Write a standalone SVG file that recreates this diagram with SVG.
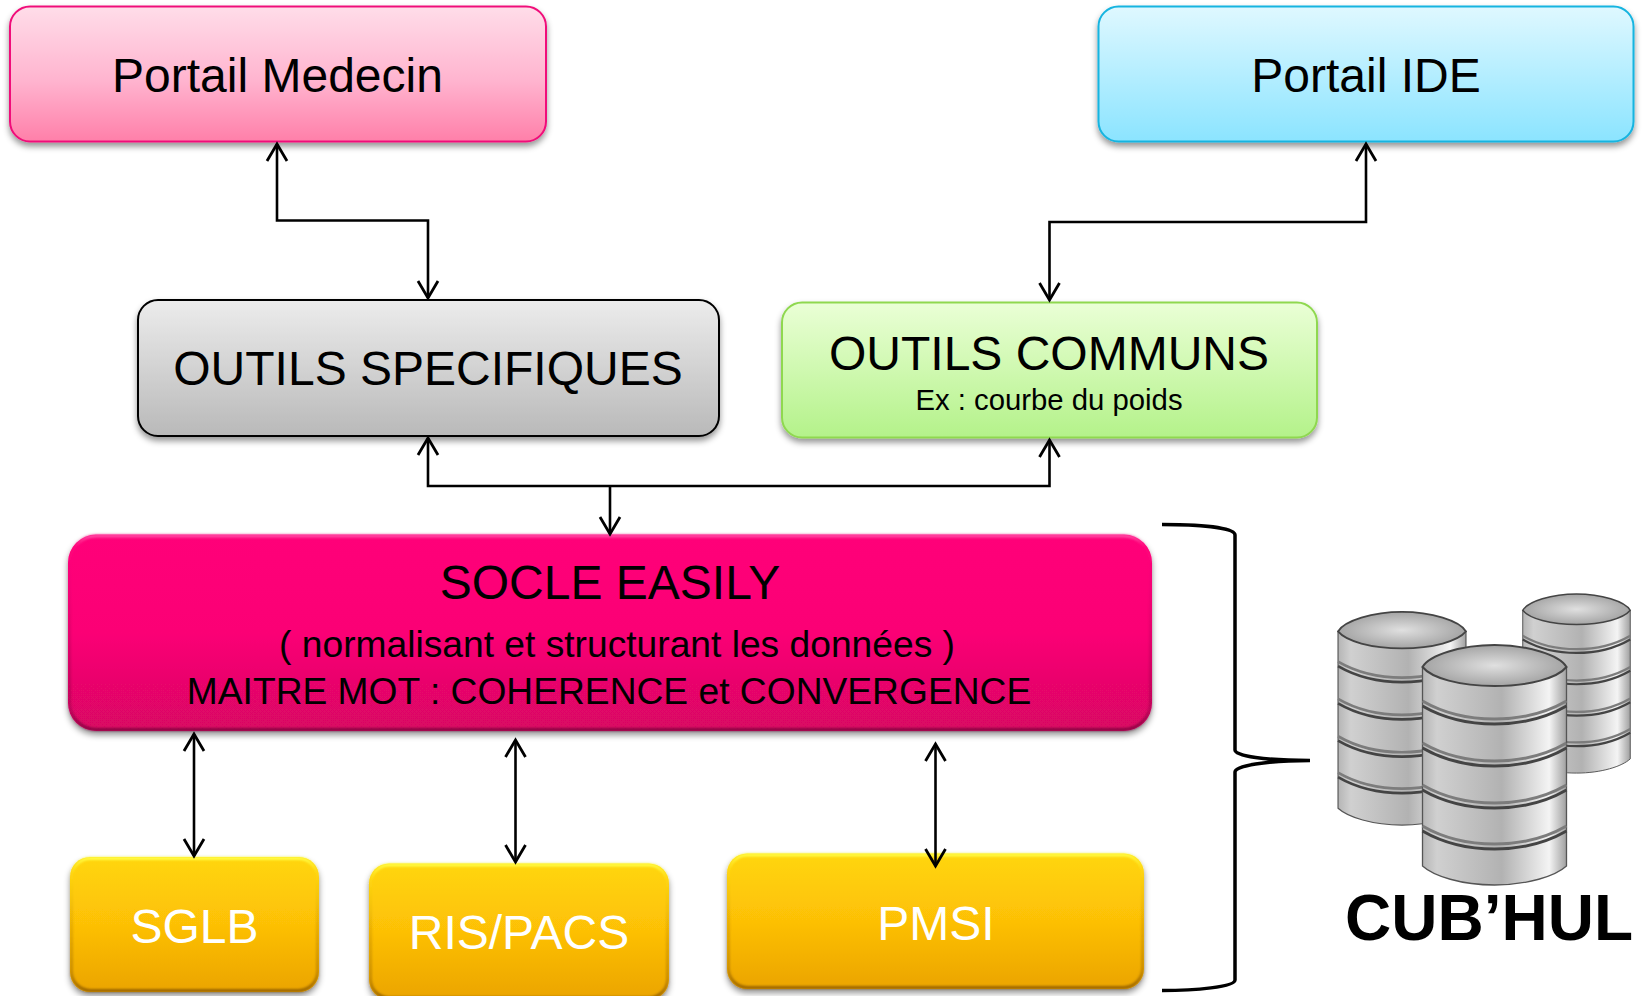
<svg xmlns="http://www.w3.org/2000/svg" xmlns:xlink="http://www.w3.org/1999/xlink" width="1645" height="996" viewBox="0 0 1645 996">
<style>
text{font-family:"Liberation Sans",Arial,sans-serif;text-anchor:middle;fill:#000}
.big{font-size:48px}
.mid{font-size:37.200px}
.w{fill:#fff}
.conn{fill:none;stroke:#000;stroke-width:2.600;marker-start:url(#arr);marker-end:url(#arr)}
.conn1{fill:none;stroke:#000;stroke-width:2.600}
.box{filter:url(#sh)}
.bev{fill:none;stroke-width:3;filter:url(#bl)}
.g1{fill:none;stroke:#7c7c7c;stroke-width:3}
.g2{fill:none;stroke:#444;stroke-width:3}
</style>
<defs>
<filter id="sh" x="-5%" y="-10%" width="110%" height="125%"><feDropShadow dx="0" dy="4" stdDeviation="3" flood-color="#000" flood-opacity=".42"/></filter>
<filter id="bl" x="-2%" y="-5%" width="104%" height="110%"><feGaussianBlur stdDeviation="1.200"/></filter>
<marker id="arr" markerUnits="userSpaceOnUse" markerWidth="24" markerHeight="26" refX="20" refY="13" orient="auto-start-reverse"><path d="M3,3 L20,13 L3,23" fill="none" stroke="#000" stroke-width="2.800"/></marker>
<linearGradient id="gp" x1="0" y1="0" x2="0" y2="1"><stop offset="0" stop-color="#ffdde9"/><stop offset=".55" stop-color="#ffb4cf"/><stop offset="1" stop-color="#ff7fa9"/></linearGradient>
<linearGradient id="gb" x1="0" y1="0" x2="0" y2="1"><stop offset="0" stop-color="#dff8ff"/><stop offset="1" stop-color="#8be4ff"/></linearGradient>
<linearGradient id="gg" x1="0" y1="0" x2="0" y2="1"><stop offset="0" stop-color="#ececec"/><stop offset="1" stop-color="#b9b9b9"/></linearGradient>
<linearGradient id="gv" x1="0" y1="0" x2="0" y2="1"><stop offset="0" stop-color="#eaffd6"/><stop offset="1" stop-color="#b4f28a"/></linearGradient>
<linearGradient id="gs" x1="0" y1="0" x2="0" y2="1"><stop offset="0" stop-color="#ff0579"/><stop offset=".5" stop-color="#fb0575"/><stop offset="1" stop-color="#d80763"/></linearGradient>
<linearGradient id="es" x1="0" y1="0" x2="0" y2="1"><stop offset="0" stop-color="#ff50a8"/><stop offset=".06" stop-color="#ff3090" stop-opacity=".1"/><stop offset=".5" stop-color="#800040" stop-opacity=".2"/><stop offset=".9" stop-color="#700038" stop-opacity=".35"/><stop offset="1" stop-color="#700038" stop-opacity=".75"/></linearGradient>
<linearGradient id="gy" x1="0" y1="0" x2="0" y2="1"><stop offset="0" stop-color="#ffd60a"/><stop offset=".5" stop-color="#fdc006"/><stop offset="1" stop-color="#eba406"/></linearGradient>
<linearGradient id="ey" x1="0" y1="0" x2="0" y2="1"><stop offset="0" stop-color="#ffff48"/><stop offset=".12" stop-color="#ffe820" stop-opacity=".2"/><stop offset=".5" stop-color="#906000" stop-opacity=".2"/><stop offset=".85" stop-color="#805000" stop-opacity=".35"/><stop offset="1" stop-color="#805000" stop-opacity=".75"/></linearGradient>
<linearGradient id="cb" x1="0" y1="0" x2="1" y2="0"><stop offset="0" stop-color="#b5b5b5"/><stop offset=".1" stop-color="#d0d0d0"/><stop offset=".55" stop-color="#b2b2b2"/><stop offset=".88" stop-color="#f4f4f4"/><stop offset="1" stop-color="#a0a0a0"/></linearGradient>
<radialGradient id="ct" cx=".5" cy=".5" r=".6"><stop offset="0" stop-color="#e0e0e0"/><stop offset="1" stop-color="#989898"/></radialGradient>
<symbol id="db" viewBox="0 0 146 242" overflow="visible">
<path d="M1,23 V222 C12,232 40,241 73,241 C106,241 134,232 145,222 V23 Z" fill="url(#cb)" stroke="#555" stroke-width="1.300"/>
<path class="g1" d="M1,57 C20,68 45,75 73,75 C101,75 126,68 145,57"/><path class="g2" d="M1,62 C20,73 45,80 73,80 C101,80 126,73 145,62"/>
<path class="g1" d="M1,99 C20,110 45,117 73,117 C101,117 126,110 145,99"/><path class="g2" d="M1,104 C20,115 45,122 73,122 C101,122 126,115 145,104"/>
<path class="g1" d="M1,141 C20,152 45,159 73,159 C101,159 126,152 145,141"/><path class="g2" d="M1,146 C20,157 45,164 73,164 C101,164 126,157 145,146"/>
<path class="g1" d="M1,182 C20,193 45,200 73,200 C101,200 126,193 145,182"/><path class="g2" d="M1,187 C20,198 45,205 73,205 C101,205 126,198 145,187"/>
<path d="M1,23 C8,11 40,1 73,1 C106,1 138,11 145,23 C136,34 108,42 73,42 C38,42 10,34 1,23 Z" fill="url(#ct)" stroke="#444" stroke-width="2"/>
</symbol>
</defs>
<rect width="1645" height="996" fill="#fff"/>

<g id="portail-medecin"><rect class="box" x="10" y="6.500" width="536" height="135" rx="20" fill="url(#gp)" stroke="#f0107a" stroke-width="2"/><text class="big" x="277.500" y="92">Portail Medecin</text></g>
<g id="portail-ide"><rect class="box" x="1098.500" y="6.500" width="535" height="135" rx="20" fill="url(#gb)" stroke="#15b4e0" stroke-width="2"/><text class="big" x="1366" y="92">Portail IDE</text></g>
<g id="outils-specifiques"><rect class="box" x="138" y="300" width="581" height="136" rx="20" fill="url(#gg)" stroke="#000" stroke-width="2"/><text class="big" x="428" y="385">OUTILS SPECIFIQUES</text></g>
<g id="outils-communs"><rect class="box" x="782" y="302.500" width="535" height="135" rx="20" fill="url(#gv)" stroke="#8fd850" stroke-width="2"/><text class="big" x="1049" y="370">OUTILS COMMUNS</text><text x="1049" y="410" font-size="29.300">Ex : courbe du poids</text></g>
<g id="socle-easily"><rect class="box" x="68" y="534.500" width="1084" height="196.500" rx="28" fill="url(#gs)"/><rect class="bev" x="69.500" y="536" width="1081" height="193.500" rx="27" stroke="url(#es)"/><text class="big" x="610" y="599">SOCLE EASILY</text><text class="mid" x="617" y="657">( normalisant et structurant les données )</text><text class="mid" x="609" y="704">MAITRE MOT : COHERENCE et CONVERGENCE</text></g>
<g id="sglb"><rect class="box" x="70" y="857" width="249" height="135" rx="20" fill="url(#gy)"/><rect class="bev" x="71.500" y="858.500" width="246" height="132" rx="19" stroke="url(#ey)"/><text class="big w" x="194.500" y="943">SGLB</text></g>
<g id="ris-pacs"><rect class="box" x="369" y="863.500" width="300" height="136" rx="20" fill="url(#gy)"/><rect class="bev" x="370.500" y="865" width="297" height="133" rx="19" stroke="url(#ey)"/><text class="big w" x="519" y="949">RIS/PACS</text></g>
<g id="pmsi"><rect class="box" x="727" y="853.500" width="417" height="135.500" rx="20" fill="url(#gy)"/><rect class="bev" x="728.500" y="855" width="414" height="132.500" rx="19" stroke="url(#ey)"/><text class="big w" x="936" y="940">PMSI</text></g>

<g id="connectors">
<path class="conn" d="M277,144 V220.500 H428 V298"/>
<path class="conn" d="M1366,144 V222 H1049.500 V300"/>
<path class="conn" d="M428,438 V486 H1049.500 V440"/>
<path class="conn1" d="M610,486 V534" marker-end="url(#arr)"/>
<path class="conn" d="M194,734 V856"/>
<path class="conn" d="M515.500,740 V862"/>
<path class="conn" d="M935.500,744 V866"/>
</g>

<path id="bracket" d="M1162,524.500 C1195,524.500 1235,527 1235,535 V750 C1235,756 1265,760.500 1310,760.500 C1265,760.500 1235,766 1235,772 V980 C1235,987 1195,990.500 1162,990.500" fill="none" stroke="#000" stroke-width="3.500"/>

<g id="cubhul">
<use xlink:href="#db" href="#db" x="1522" y="593" width="109" height="181"/>
<use xlink:href="#db" href="#db" x="1337" y="611" width="130" height="215"/>
<use xlink:href="#db" href="#db" x="1421.500" y="644" width="146" height="242"/>
<text x="1489" y="940" font-size="64" font-weight="bold">CUB’HUL</text>
</g>
</svg>
